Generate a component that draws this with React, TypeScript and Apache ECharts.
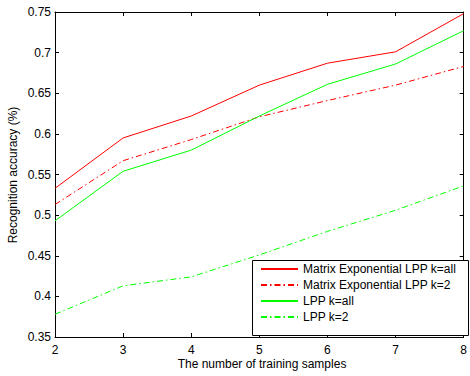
import React, { useEffect, useRef } from "react";
import * as echarts from "echarts";

const xValues = [2, 3, 4, 5, 6, 7, 8];
const meLppAll = [0.533, 0.595, 0.622, 0.66, 0.687, 0.701, 0.748];
const meLpp2 = [0.513, 0.567, 0.593, 0.621, 0.641, 0.66, 0.683];
const lppAll = [0.493, 0.554, 0.58, 0.622, 0.661, 0.686, 0.727];
const lpp2 = [0.378, 0.413, 0.424, 0.451, 0.48, 0.506, 0.536];
const seriesNames = [
  "Matrix Exponential LPP k=all",
  "Matrix Exponential LPP k=2",
  "LPP k=all",
  "LPP k=2",
];

const FONT = "Liberation Sans, Arial, Helvetica, sans-serif";
const dashDot = [6, 3, 1.5, 3];

export default function App() {
  const ref = useRef<HTMLDivElement>(null);
  useEffect(() => {
    if (!ref.current) return;
    const chart = echarts.init(ref.current, null, { renderer: "svg" });
    const mk = (name: string, vals: number[], color: string, dashed: boolean) => ({
      name,
      type: "line",
      xAxisIndex: 0,
      yAxisIndex: 0,
      symbol: "none",
      data: xValues.map((x, i) => [x, vals[i]]),
      lineStyle: { color, width: 1, type: dashed ? dashDot : "solid" },
      itemStyle: { color },
    });
    const axisCommon = {
      axisLine: { show: true, lineStyle: { color: "#000", width: 1 } },
      axisTick: { show: true, inside: true, length: 4, lineStyle: { color: "#000" } },
      splitLine: { show: false },
    };
    chart.setOption({
      animation: false,
      backgroundColor: "#fff",
      grid: { left: 55, right: 1, top: 12, bottom: 39, containLabel: false },
      xAxis: [
        {
          type: "value",
          min: 2,
          max: 8,
          interval: 1,
          position: "bottom",
          ...axisCommon,
          axisLabel: { color: "#000", fontSize: 12, fontFamily: FONT, margin: 7 },
        },
        {
          type: "value",
          min: 2,
          max: 8,
          interval: 1,
          position: "top",
          ...axisCommon,
          axisLabel: { show: false },
        },
      ],
      yAxis: [
        {
          type: "value",
          min: 0.35,
          max: 0.75,
          interval: 0.05,
          position: "left",
          ...axisCommon,
          axisLabel: { color: "#000", fontSize: 12, fontFamily: FONT, margin: 4 },
        },
        {
          type: "value",
          min: 0.35,
          max: 0.75,
          interval: 0.05,
          position: "right",
          ...axisCommon,
          axisLabel: { show: false },
        },
      ],
      legend: {
        orient: "vertical",
        left: 260,
        top: 263,
        itemWidth: 37,
        itemHeight: 14,
        itemGap: 4,
        padding: 0,
        data: seriesNames,
        itemStyle: { opacity: 0 },
        textStyle: { color: "#000", fontSize: 12, fontFamily: FONT },
      },
      graphic: [
        {
          type: "rect",
          z: 3,
          shape: { x: 252.5, y: 260.5, width: 216, height: 75 },
          style: { fill: "#fff", stroke: "#000", lineWidth: 1 },
        },
        {
          type: "text",
          x: 262,
          y: 364,
          style: {
            text: "The number of training samples",
            fontSize: 12,
            fontFamily: FONT,
            fill: "#000",
            textAlign: "center",
            textVerticalAlign: "middle",
          },
        },
        {
          type: "text",
          x: 13,
          y: 175,
          rotation: Math.PI / 2,
          style: {
            text: "Recognition accuracy (%)",
            fontSize: 12,
            fontFamily: FONT,
            fill: "#000",
            textAlign: "center",
            textVerticalAlign: "middle",
          },
        },
      ],
      series: [
        mk(seriesNames[0], meLppAll, "#ff0000", false),
        mk(seriesNames[1], meLpp2, "#ff0000", true),
        mk(seriesNames[2], lppAll, "#00ff00", false),
        mk(seriesNames[3], lpp2, "#00ff00", true),
      ],
    });
    return () => chart.dispose();
  }, []);
  return (
    <div
      ref={ref}
      style={{ position: "fixed", left: 0, top: 0, width: 470, height: 376 }}
    />
  );
}
